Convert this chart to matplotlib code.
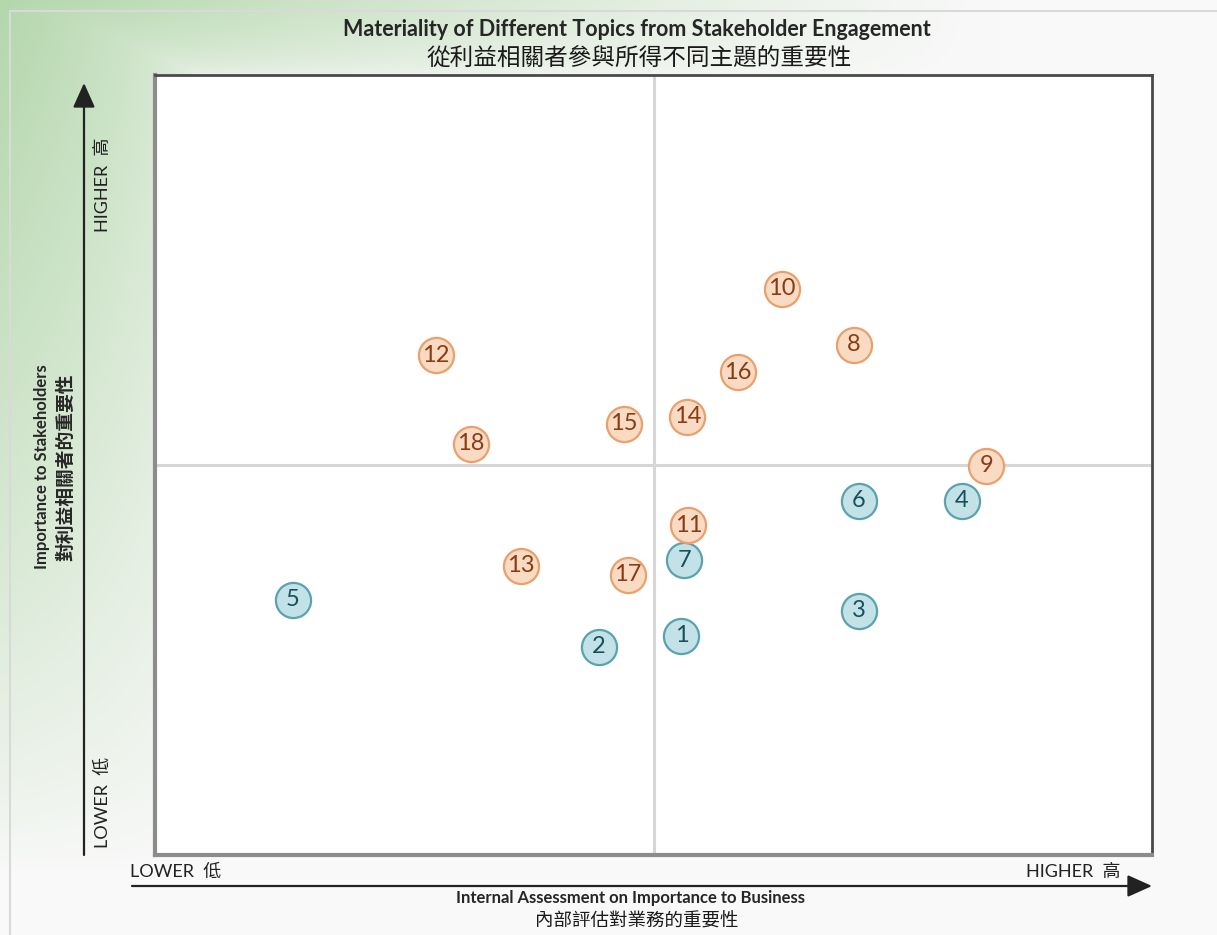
import numpy as np
import matplotlib
matplotlib.use("Agg")
import matplotlib.pyplot as plt

plt.rcParams["font.family"] = ["Lato", "Noto Sans CJK TC", "DejaVu Sans"]

# %% Data: topic number, business importance (x), stakeholder importance (y)
topics = [1, 2, 3, 4, 5, 6, 7, 8, 9, 10, 11, 12, 13, 14, 15, 16, 17, 18]
business = [5.28, 4.45, 7.06, 8.09, 1.38, 7.06, 5.31, 7.01, 8.34,
            6.29, 5.35, 2.82, 3.67, 5.34, 4.70, 5.85, 4.74, 3.17]
stakeholder = [2.81, 2.67, 3.13, 4.54, 3.27, 4.54, 3.78, 6.54, 4.99,
               7.26, 4.23, 6.41, 3.71, 5.62, 5.53, 6.19, 3.59, 5.27]
group = ["blue"] * 7 + ["orange"] * 11

title_en = "Materiality of Different Topics from Stakeholder Engagement"
title_zh = "從利益相關者參與所得不同主題的重要性"
xlabel_en = "Internal Assessment on Importance to Business"
xlabel_zh = "內部評估對業務的重要性"
ylabel_en = "Importance to Stakeholders"
ylabel_zh = "對利益相關者的重要性"

styles = {
    "blue": dict(face="#c3e2e8", edge="#5aa2ae", text="#17505c"),
    "orange": dict(face="#f9dbc4", edge="#e9a06c", text="#8a3b12"),
}

# %% Figure and watercolour-ish background
W, H = 1217, 935
fig = plt.figure(figsize=(W / 100, H / 100), dpi=100)

bg = fig.add_axes([0, 0, 1, 1])
X, Y = np.meshgrid(np.arange(W), np.arange(H))
w_top = np.clip(1 - Y / 78, 0, 1) ** 0.4 * np.clip(1 - X / 1000, 0, 1) ** 1.1
w_left = np.clip(1 - X / 210, 0, 1) ** 0.45 * np.clip(1 - Y / 870, 0, 1) ** 0.75
w = np.maximum(w_top, w_left)[..., None]
green = np.array([180, 215, 172]) / 255
base = np.array([249, 249, 249]) / 255
bg.imshow(base + (green - base) * w, extent=(0, W, H, 0), aspect="auto")
bg.set_xlim(0, W)
bg.set_ylim(H, 0)
bg.axis("off")

# thin outer frame
bg.plot([10, 10], [11, H], color="#d9d9d9", lw=1.5)
bg.plot([10, W], [11, 11], color="#d9d9d9", lw=1.5)

# titles
bg.text(637, 30, title_en, ha="center", va="center", fontsize=15.5,
        fontweight="bold", color="#262626")
bg.text(639, 58, title_zh, ha="center", va="center", fontsize=17,
        family=["Noto Sans CJK TC"], color="#1a1a1a")

# axis arrows
arrow = dict(arrowstyle="-|>,head_length=1.0,head_width=0.45", lw=1.6,
             color="#222222", mutation_scale=15, shrinkA=0, shrinkB=0)
bg.annotate("", xy=(84, 83), xytext=(84, 855), arrowprops=arrow)
bg.annotate("", xy=(1152, 886), xytext=(132, 886), arrowprops=arrow)

# end labels
lab = dict(fontsize=13, color="#222222")
bg.text(103, 137, "HIGHER  高", rotation=90, ha="center", va="top", **lab)
bg.text(103, 848, "LOWER  低", rotation=90, ha="center", va="bottom", **lab)
bg.text(130, 872, "LOWER  低", ha="left", va="center", **lab)
bg.text(1120, 872, "HIGHER  高", ha="right", va="center", **lab)

# axis titles
bg.text(630, 898, xlabel_en, ha="center", va="center", fontsize=12,
        fontweight="bold", color="#262626")
bg.text(637, 922, xlabel_zh, ha="center", va="center", fontsize=13.3,
        family=["Noto Sans CJK TC"], color="#1a1a1a")
bg.text(42, 467, ylabel_en, rotation=90, ha="center", va="center",
        fontsize=12, fontweight="bold", color="#262626")
bg.text(66, 467, ylabel_zh, rotation=90, ha="center", va="center",
        fontsize=13.5, fontweight="bold", family=["Noto Sans CJK TC"],
        color="#262626")

# %% Matrix
left, right, top, bottom = 155, 1152, 75, 855
ax = fig.add_axes([left / W, 1 - bottom / H, (right - left) / W,
                   (bottom - top) / H])
ax.set_facecolor("white")
ax.set_xlim(0, 10)
ax.set_ylim(0, 10)
ax.set_xticks([])
ax.set_yticks([])
for side in ["top", "right"]:
    ax.spines[side].set_color("#4a4a4a")
    ax.spines[side].set_linewidth(2)
for side in ["left", "bottom"]:
    ax.spines[side].set_color("#8c8c8c")
    ax.spines[side].set_linewidth(3)

ax.axvline(5, color="#d6d6d6", lw=2.2, zorder=1)
ax.axhline(5, color="#d6d6d6", lw=2.2, zorder=1)

for g in ["blue", "orange"]:
    idx = [i for i, gg in enumerate(group) if gg == g]
    st = styles[g]
    ax.scatter([business[i] for i in idx], [stakeholder[i] for i in idx],
               s=640, facecolor=st["face"], edgecolor=st["edge"],
               linewidth=1.6, zorder=3)
    for i in idx:
        ax.text(business[i], stakeholder[i], str(topics[i]), ha="center",
                va="center", fontsize=17, color=st["text"], zorder=4)

fig.savefig("out.png", dpi=100)
